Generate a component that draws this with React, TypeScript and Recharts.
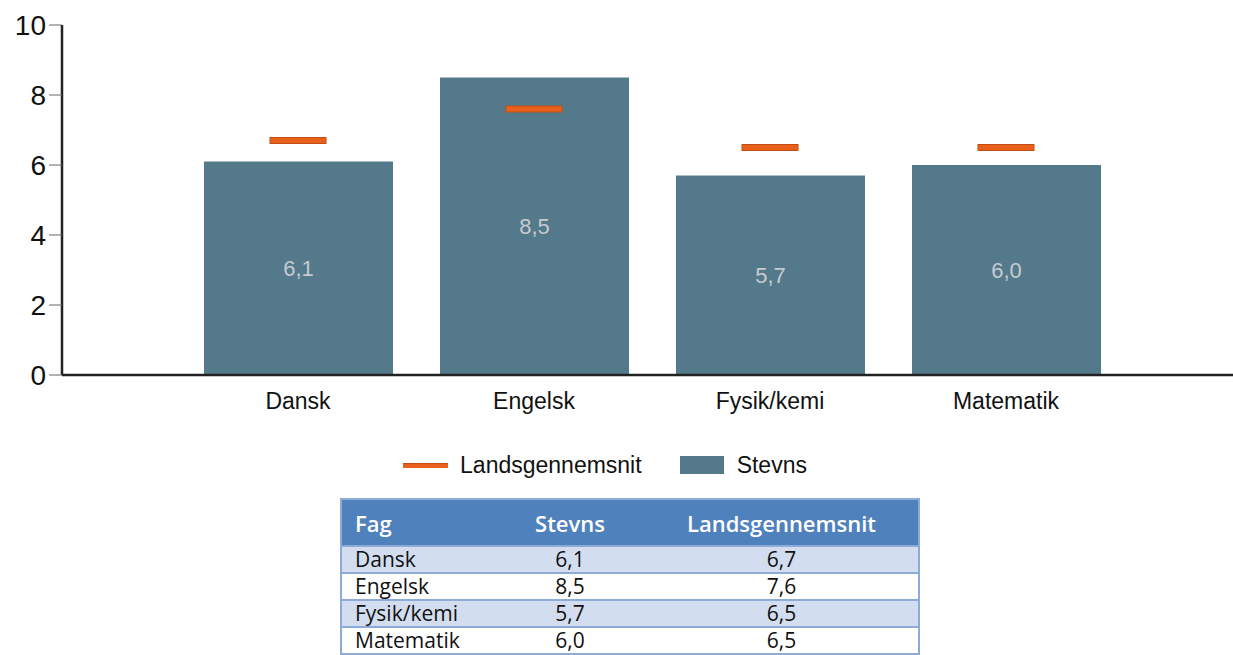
import { Bar, ComposedChart, LabelList, Legend, Line, XAxis, YAxis } from "recharts";

const fag = ["Dansk", "Engelsk", "Fysik/kemi", "Matematik"];
const stevns = [6.1, 8.5, 5.7, 6.0];
const landsgennemsnit = [6.7, 7.6, 6.5, 6.5];
const yTicks = [0, 2, 4, 6, 8, 10];

const data = fag.map((f, i) => ({ fag: f, stevns: stevns[i], lands: landsgennemsnit[i] }));

const BAR_COLOR = "#54798b";
const ORANGE = "#e8601c";

const komma = (v: number) => v.toFixed(1).replace(".", ",");

// short horizontal marker for the national average
const Marker = (props: any) => {
  const { cx, cy } = props;
  if (cx == null || cy == null) return null;
  return <rect x={cx - 28} y={cy - 3} width={56} height={6} fill={ORANGE} stroke="#c24e14" strokeWidth={1} />;
};

const LegendContent = (props: any) => {
  const items = (props.payload || []).slice().sort((a: any, b: any) => (a.type === "plainline" ? -1 : 1) - (b.type === "plainline" ? -1 : 1));
  return (
    <div style={{ display: "flex", justifyContent: "center", alignItems: "center", height: 30 }}>
      {items.map((p: any, i: number) => (
        <div key={p.value} style={{ display: "flex", alignItems: "center", marginRight: i === 0 ? 38 : 0 }}>
          {p.type === "plainline" ? (
            <div style={{ width: 45, height: 4, background: ORANGE, borderTop: "1px solid #c24e14", marginRight: 12 }} />
          ) : (
            <div style={{ width: 44, height: 18, background: BAR_COLOR, marginRight: 13 }} />
          )}
          <span style={{ fontSize: 23, color: "#111" }}>{p.value}</span>
        </div>
      ))}
    </div>
  );
};

const cell: React.CSSProperties = { padding: "0 0 0 13px", height: 25 };

export default function App() {
  return (
    <div style={{ position: "absolute", left: 0, top: 0, width: 1233, fontFamily: "'Liberation Sans', Arial, sans-serif" }}>
      <ComposedChart
        width={1233}
        height={490}
        data={data}
        margin={{ top: 25, right: 0, left: 0, bottom: 35 }}
      >
        <YAxis
          domain={[0, 10]}
          ticks={yTicks}
          width={62}
          tickSize={13}
          tickMargin={3}
          axisLine={{ stroke: "#222", strokeWidth: 2.5 }}
          tickLine={{ stroke: "#666" }}
          tick={{ fill: "#111", fontSize: 28 }}
        />
        <XAxis
          dataKey="fag"
          padding={{ left: 118, right: 109 }}
          height={50}
          tickSize={10}
          tickMargin={8}
          axisLine={{ stroke: "#222", strokeWidth: 2.5 }}
          tickLine={false}
          tick={{ fill: "#111", fontSize: 23 }}
        />
        <Line
          dataKey="lands"
          name="Landsgennemsnit"
          stroke="none"
          legendType="plainline"
          dot={<Marker />}
          activeDot={false}
          isAnimationActive={false}
        />
        <Bar dataKey="stevns" name="Stevns" fill={BAR_COLOR} barSize={189} legendType="rect" isAnimationActive={false}>
          <LabelList dataKey="stevns" position="center" fill="#c5cbd0" fontSize={22} formatter={(v: any) => komma(Number(v))} />
        </Bar>
        <Legend content={<LegendContent />} wrapperStyle={{ top: 450, left: 0, width: 1210 }} />
      </ComposedChart>
      <table
        style={{
          position: "absolute",
          top: 498,
          left: 340,
          width: 580,
          borderCollapse: "collapse",
          border: "2px solid #8eaad6",
          fontFamily: "'Open Sans', sans-serif",
          fontSize: 21,
          color: "#111",
        }}
      >
        <thead>
          <tr style={{ background: "#4f81bd", color: "#fff", height: 47, borderBottom: "2px solid #8eaad6" }}>
            <th style={{ ...cell, textAlign: "left", fontWeight: 600, fontSize: 22, width: 140 }}>Fag</th>
            <th style={{ ...cell, padding: 0, textAlign: "center", fontWeight: 600, fontSize: 22, width: 150 }}>Stevns</th>
            <th style={{ ...cell, padding: 0, textAlign: "center", fontWeight: 600, fontSize: 22 }}>Landsgennemsnit</th>
          </tr>
        </thead>
        <tbody>
          {fag.map((f, i) => (
            <tr key={f} style={{ background: i % 2 === 0 ? "#d2deef" : "#fff", borderBottom: "2px solid #8eaad6" }}>
              <td style={{ ...cell, lineHeight: "25px" }}>{f}</td>
              <td style={{ ...cell, padding: 0, textAlign: "center", lineHeight: "25px" }}>{komma(stevns[i])}</td>
              <td style={{ ...cell, padding: 0, textAlign: "center", lineHeight: "25px" }}>{komma(landsgennemsnit[i])}</td>
            </tr>
          ))}
        </tbody>
      </table>
    </div>
  );
}
